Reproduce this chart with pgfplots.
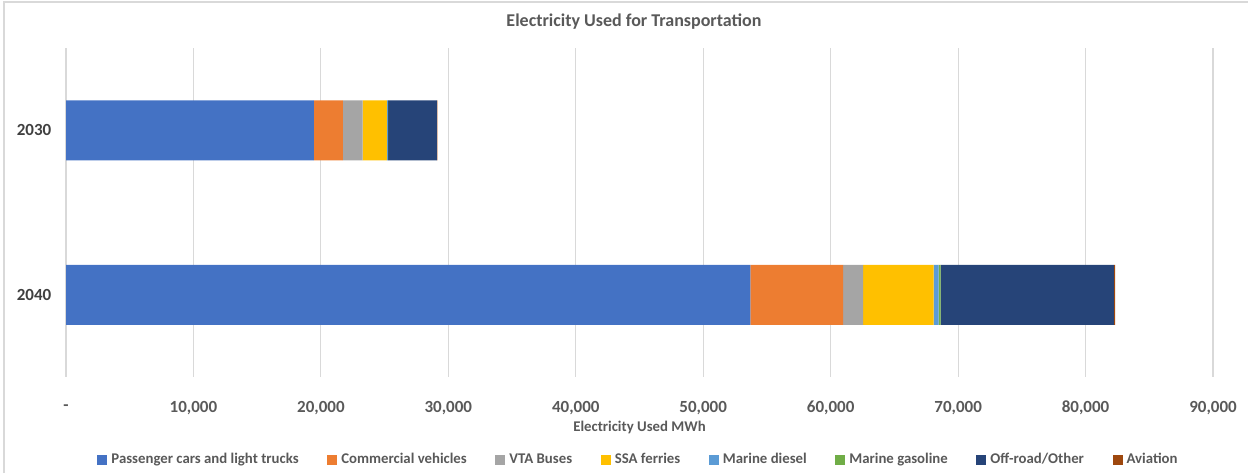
\documentclass[border=0pt]{standalone}
\usepackage{pgfplots}
\pgfplotsset{compat=1.18}
\usepackage{fontspec}
\setmainfont{Carlito}
\definecolor{cPass}{HTML}{4472C4}
\definecolor{cComm}{HTML}{ED7D31}
\definecolor{cVTA}{HTML}{A5A5A5}
\definecolor{cSSA}{HTML}{FFC000}
\definecolor{cMD}{HTML}{5B9BD5}
\definecolor{cMG}{HTML}{70AD47}
\definecolor{cOff}{HTML}{264478}
\definecolor{cAv}{HTML}{9E480E}
\definecolor{txt}{HTML}{595959}
\definecolor{gridc}{HTML}{D9D9D9}
\begin{document}
\begin{tikzpicture}
\path[use as bounding box] (0,0) rectangle (624pt,236.5pt);
\draw[gridc, line width=0.6pt] (2pt,0) -- (2pt,235.5pt) -- (624pt,235.5pt);
\node[font=\bfseries\fontsize{9}{10}\selectfont, text=txt] at (317pt,225.5pt) {Electricity Used for Transportation};
\begin{axis}[
  at={(33pt,48pt)}, anchor=south west,
  scale only axis, width=573.5pt, height=164.5pt,
  xbar stacked, bar width=30pt,
  xmin=0, xmax=90000, ymin=-0.5, ymax=1.5,
  y dir=reverse,
  scaled x ticks=false,
  ytick={0,1}, yticklabels={2030,2040},
  xtick={0,10000,...,90000},
  xticklabels={-,{10,000},{20,000},{30,000},{40,000},{50,000},{60,000},{70,000},{80,000},{90,000}},
  xmajorgrids, major grid style={gridc, line width=0.6pt},
  axis line style={draw=none},
  tick style={draw=none},
  xticklabel style={anchor=center, yshift=-15.5pt, font=\bfseries\fontsize{8.5}{10}\selectfont, text=txt},
  yticklabel style={anchor=center, xshift=-16pt, font=\bfseries\fontsize{8.5}{10}\selectfont, text=black!75},
  xlabel={Electricity Used MWh},
  xlabel style={at={(axis description cs:0.5,0)}, anchor=center, yshift=-25pt, font=\bfseries\fontsize{7.4}{9}\selectfont, text=txt},
  legend style={at={(axis description cs:0.5,0)}, anchor=center, yshift=-41.5pt, draw=none, fill=none,
    legend columns=-1, font=\bfseries\fontsize{7.4}{9}\selectfont, text=txt,
    /tikz/every even column/.append style={column sep=12.3pt}},
  legend image code/.code={\fill[#1] (0pt,-2.5pt) rectangle (5pt,2.5pt);},
]
\addplot[fill=cPass, draw=none] coordinates {(19450,0) (53700,1)};
\addplot[fill=cComm, draw=none] coordinates {(2270,0) (7280,1)};
\addplot[fill=cVTA, draw=none] coordinates {(1560,0) (1570,1)};
\addplot[fill=cSSA, draw=none] coordinates {(1900,0) (5530,1)};
\addplot[fill=cMD, draw=none] coordinates {(80,0) (390,1)};
\addplot[fill=cMG, draw=none] coordinates {(20,0) (160,1)};
\addplot[fill=cOff, draw=none] coordinates {(3830,0) (13600,1)};
\addplot[fill=cAv, draw=none] coordinates {(30,0) (80,1)};
\legend{Passenger cars and light trucks, Commercial vehicles, VTA Buses, SSA ferries, Marine diesel, Marine gasoline, Off-road/Other, Aviation}
\end{axis}
\end{tikzpicture}
\end{document}
